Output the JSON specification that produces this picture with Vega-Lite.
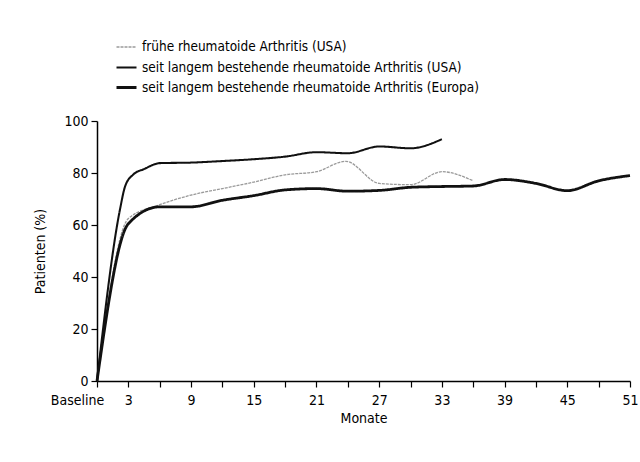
{
  "$schema": "https://vega.github.io/schema/vega-lite/v6.json",
  "autosize": {"type": "none"},
  "width": 533,
  "height": 260,
  "padding": {"left": 97, "top": 121, "right": 10, "bottom": 81},
  "background": "white",
  "config": {
    "view": {"stroke": null},
    "font": "DejaVu Sans Condensed, Liberation Sans, sans-serif",
    "axis": {"grid": false, "domainColor": "black", "tickColor": "black", "labelColor": "black", "titleColor": "black", "domainWidth": 1.5, "tickWidth": 1.2, "labelFont": "DejaVu Sans Condensed, Liberation Sans, sans-serif", "titleFont": "DejaVu Sans Condensed, Liberation Sans, sans-serif", "labelFontSize": 14, "titleFontSize": 14, "titleFontWeight": "normal"},
    "legend": {"labelFont": "DejaVu Sans Condensed, Liberation Sans, sans-serif", "labelFontSize": 13.5, "labelColor": "black", "labelLimit": 600}
  },
  "data": {"values": [
    {"m": 0, "v": 0, "s": "frühe rheumatoide Arthritis (USA)"},
    {"m": 3, "v": 62.5, "s": "frühe rheumatoide Arthritis (USA)"},
    {"m": 6, "v": 67.8, "s": "frühe rheumatoide Arthritis (USA)"},
    {"m": 9, "v": 71.5, "s": "frühe rheumatoide Arthritis (USA)"},
    {"m": 12, "v": 74, "s": "frühe rheumatoide Arthritis (USA)"},
    {"m": 15, "v": 76.5, "s": "frühe rheumatoide Arthritis (USA)"},
    {"m": 18, "v": 79.3, "s": "frühe rheumatoide Arthritis (USA)"},
    {"m": 21, "v": 80.5, "s": "frühe rheumatoide Arthritis (USA)"},
    {"m": 23.8, "v": 84.5, "s": "frühe rheumatoide Arthritis (USA)"},
    {"m": 27, "v": 76, "s": "frühe rheumatoide Arthritis (USA)"},
    {"m": 30, "v": 75.5, "s": "frühe rheumatoide Arthritis (USA)"},
    {"m": 33, "v": 80.5, "s": "frühe rheumatoide Arthritis (USA)"},
    {"m": 36, "v": 77, "s": "frühe rheumatoide Arthritis (USA)"},
    {"m": 0, "v": 0, "s": "seit langem bestehende rheumatoide Arthritis (USA)"},
    {"m": 2.2, "v": 66, "s": "seit langem bestehende rheumatoide Arthritis (USA)"},
    {"m": 2.7, "v": 75, "s": "seit langem bestehende rheumatoide Arthritis (USA)"},
    {"m": 3.5, "v": 79.5, "s": "seit langem bestehende rheumatoide Arthritis (USA)"},
    {"m": 4.5, "v": 81.5, "s": "seit langem bestehende rheumatoide Arthritis (USA)"},
    {"m": 6, "v": 83.8, "s": "seit langem bestehende rheumatoide Arthritis (USA)"},
    {"m": 9, "v": 84, "s": "seit langem bestehende rheumatoide Arthritis (USA)"},
    {"m": 12, "v": 84.6, "s": "seit langem bestehende rheumatoide Arthritis (USA)"},
    {"m": 15, "v": 85.3, "s": "seit langem bestehende rheumatoide Arthritis (USA)"},
    {"m": 18, "v": 86.3, "s": "seit langem bestehende rheumatoide Arthritis (USA)"},
    {"m": 21, "v": 88, "s": "seit langem bestehende rheumatoide Arthritis (USA)"},
    {"m": 24, "v": 87.6, "s": "seit langem bestehende rheumatoide Arthritis (USA)"},
    {"m": 27, "v": 90.2, "s": "seit langem bestehende rheumatoide Arthritis (USA)"},
    {"m": 30, "v": 89.5, "s": "seit langem bestehende rheumatoide Arthritis (USA)"},
    {"m": 33, "v": 93, "s": "seit langem bestehende rheumatoide Arthritis (USA)"},
    {"m": 0, "v": 0, "s": "seit langem bestehende rheumatoide Arthritis (Europa)"},
    {"m": 3, "v": 60.5, "s": "seit langem bestehende rheumatoide Arthritis (Europa)"},
    {"m": 6, "v": 67, "s": "seit langem bestehende rheumatoide Arthritis (Europa)"},
    {"m": 9, "v": 67, "s": "seit langem bestehende rheumatoide Arthritis (Europa)"},
    {"m": 12, "v": 69.5, "s": "seit langem bestehende rheumatoide Arthritis (Europa)"},
    {"m": 15, "v": 71.3, "s": "seit langem bestehende rheumatoide Arthritis (Europa)"},
    {"m": 18, "v": 73.5, "s": "seit langem bestehende rheumatoide Arthritis (Europa)"},
    {"m": 21, "v": 74, "s": "seit langem bestehende rheumatoide Arthritis (Europa)"},
    {"m": 24, "v": 73, "s": "seit langem bestehende rheumatoide Arthritis (Europa)"},
    {"m": 27, "v": 73.3, "s": "seit langem bestehende rheumatoide Arthritis (Europa)"},
    {"m": 30, "v": 74.5, "s": "seit langem bestehende rheumatoide Arthritis (Europa)"},
    {"m": 33, "v": 74.8, "s": "seit langem bestehende rheumatoide Arthritis (Europa)"},
    {"m": 36, "v": 75, "s": "seit langem bestehende rheumatoide Arthritis (Europa)"},
    {"m": 39, "v": 77.5, "s": "seit langem bestehende rheumatoide Arthritis (Europa)"},
    {"m": 42, "v": 76, "s": "seit langem bestehende rheumatoide Arthritis (Europa)"},
    {"m": 45, "v": 73.2, "s": "seit langem bestehende rheumatoide Arthritis (Europa)"},
    {"m": 48, "v": 77, "s": "seit langem bestehende rheumatoide Arthritis (Europa)"},
    {"m": 51, "v": 79, "s": "seit langem bestehende rheumatoide Arthritis (Europa)"}
  ]},
  "mark": {"type": "line", "interpolate": "monotone"},
  "encoding": {
    "x": {"field": "m", "type": "quantitative", "scale": {"domain": [0, 51], "nice": false}, "title": "Monate",
      "axis": {"values": [0,3,6,9,12,15,18,21,24,27,30,33,36,39,42,45,48,51], "labelExpr": "datum.value == 0 ? 'Baseline' : (datum.value % 6 == 3 ? datum.label : '')", "labelOffset": {"condition": {"test": "datum.value == 0", "value": -20}, "value": 0}, "tickSize": 6, "labelPadding": 6, "titlePadding": 4, "labelFlush": false}},
    "y": {"field": "v", "type": "quantitative", "scale": {"domain": [0, 100], "nice": false}, "title": "Patienten (%)",
      "axis": {"values": [0,20,40,60,80,100], "tickSize": 6, "labelPadding": 3, "titlePadding": 16}},
    "color": {"field": "s", "type": "nominal", "title": null,
      "scale": {"domain": ["frühe rheumatoide Arthritis (USA)", "seit langem bestehende rheumatoide Arthritis (USA)", "seit langem bestehende rheumatoide Arthritis (Europa)"], "range": ["#9a9a9a", "#111111", "#111111"]},
      "legend": {"orient": "none", "legendX": 18, "legendY": -85, "symbolType": "stroke", "symbolSize": 400, "rowPadding": 2, "labelOffset": 4}},
    "strokeWidth": {"field": "s", "type": "nominal", "title": null,
      "scale": {"domain": ["frühe rheumatoide Arthritis (USA)", "seit langem bestehende rheumatoide Arthritis (USA)", "seit langem bestehende rheumatoide Arthritis (Europa)"], "range": [1.3, 2.8, 2.8]}},
    "strokeDash": {"field": "s", "type": "nominal", "title": null,
      "scale": {"domain": ["frühe rheumatoide Arthritis (USA)", "seit langem bestehende rheumatoide Arthritis (USA)", "seit langem bestehende rheumatoide Arthritis (Europa)"], "range": [[3, 1], [1, 0], [1, 0]]}}
  }
}
